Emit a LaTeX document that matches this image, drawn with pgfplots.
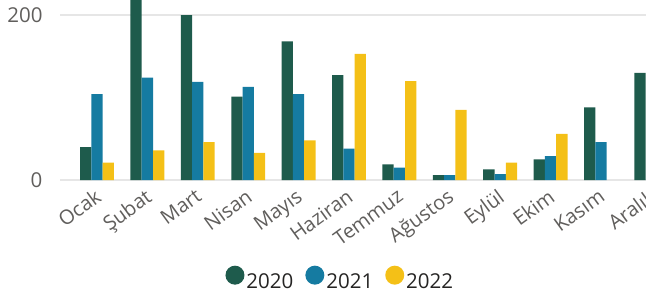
\documentclass[border=0pt]{standalone}
\usepackage{fontspec}
\setmainfont{Open Sans}
\usepackage{pgfplots}
\pgfplotsset{compat=1.18}
\definecolor{c20}{HTML}{1E5B4C}
\definecolor{c21}{HTML}{157BA1}
\definecolor{c22}{HTML}{F4C017}
\definecolor{tickc}{HTML}{605E5C}
\definecolor{gridc}{HTML}{E6E6E6}
\definecolor{legc}{HTML}{252423}
\begin{document}
\begin{tikzpicture}[x=1pt,y=1pt]
\useasboundingbox (0,0) rectangle (646,295);
\begin{axis}[
  at={(60pt,115pt)}, anchor=south west,
  scale only axis, width=596.4pt, height=180pt,
  xmin=-0.734, xmax=11.1, ymin=0, ymax=218.2,
  axis line style={draw=none}, tick style={draw=none},
  ymajorgrids, grid style={gridc, line width=1.6pt},
  ybar=0pt, bar width=0.224,
  xtick={0,...,11},
  xticklabels={Ocak,Şubat,Mart,Nisan,Mayıs,Haziran,Temmuz,Ağustos,Eylül,Ekim,Kasım,Aralık},
  xticklabel style={xshift=-3pt, yshift=-2pt, rotate=36, anchor=north east, font=\fontsize{20}{24}\selectfont, text=tickc, inner sep=1pt},
  ytick={0,200},
  yticklabel style={font=\fontsize{20.5}{24}\selectfont, text=tickc, xshift=-14pt},
  /pgf/number format/assume math mode=true,
  legend style={draw=none, fill=none, at={(0.47,-0.55)}, anchor=center,
    legend columns=-1, font=\fontsize{20.5}{24}\selectfont, text=legc,
    /tikz/every even column/.append style={column sep=10pt}},
  legend image code/.code={\fill[#1,draw=none] (0pt,7pt) circle (9.5pt);},
]
\addplot[fill=c20, draw=none] coordinates {(0,40) (1,225) (2,200) (3,101) (4,168) (5,127) (6,19) (7,6) (8,13) (9,25) (10,88) (11,130)};
\addplot[fill=c21, draw=none] coordinates {(0,104) (1,124) (2,119) (3,113) (4,104) (5,38) (6,15) (7,6) (8,7) (9,29) (10,46)};
\addplot[fill=c22, draw=none] coordinates {(0,21) (1,36) (2,46) (3,33) (4,48) (5,153) (6,120) (7,85) (8,21) (9,56)};
\legend{2020,2021,2022}
\end{axis}
\end{tikzpicture}
\end{document}
